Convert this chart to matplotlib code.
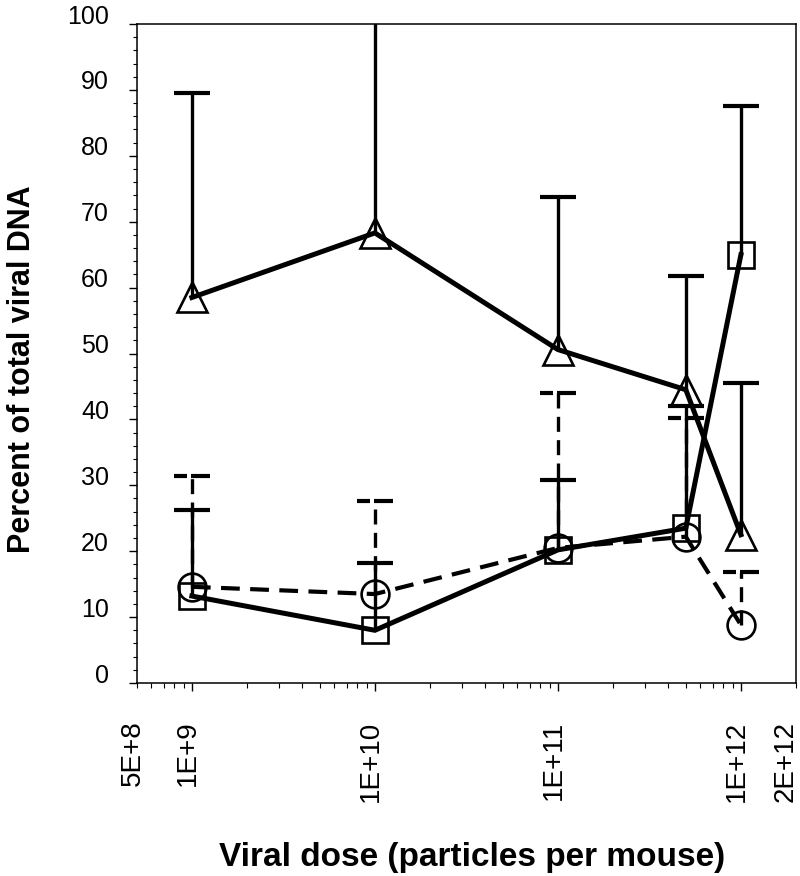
import matplotlib
matplotlib.use("Agg")
import matplotlib.pyplot as plt
import numpy as np
from matplotlib.path import Path
from matplotlib.ticker import FixedLocator, FuncFormatter, MultipleLocator, LogLocator
from matplotlib.transforms import ScaledTranslation

# ---------------- data ----------------
dose = [1e9, 1e10, 1e11, 5e11, 1e12]

tri_mean = [58.5, 68.3, 50.6, 44.5, 22.5]
tri_err = [31.1, 32.9, 23.2, 17.2, 23.1]

sq_mean = [13.2, 8.0, 20.2, 23.5, 65.0]
sq_err = [13.0, 10.2, 10.6, 18.6, 22.6]

circ_mean = [14.6, 13.5, 20.5, 22.2, 8.8]
circ_err = [16.8, 14.1, 23.5, 18.0, 8.0]

xtick_vals = [5e8, 1e9, 1e10, 1e11, 1e12, 2e12]
xtick_labels = ["5E+8", "1E+9", "1E+10", "1E+11", "1E+12", "2E+12"]
ytick_vals = [0, 10, 20, 30, 40, 50, 60, 70, 80, 90, 100]

xlabel = "Viral dose (particles per mouse)"
ylabel = "Percent of total viral DNA"

# ---------------- figure ----------------
plt.rcParams['font.family'] = ['Liberation Sans', 'DejaVu Sans']
fig = plt.figure(figsize=(8, 8.76), dpi=100)
ax = fig.add_axes([0.171, 0.2203, 0.824, 0.7523])
ax.set_xscale('log')
ax.set_xlim(xtick_vals[0], xtick_vals[-1])
ax.set_ylim(0, 100)

cap_solid = Path([(-1, 0), (1, 0)], [Path.MOVETO, Path.LINETO])
cap_dash = Path([(-1, 0), (-0.3, 0), (-0.05, 0), (1, 0)],
                [Path.MOVETO, Path.LINETO, Path.MOVETO, Path.LINETO])

def series(mean, err, marker, ls, ms, capm):
    zeros = np.zeros(len(mean))
    eb = ax.errorbar(dose, mean, yerr=[zeros, err], fmt='none', ecolor='black',
                     elinewidth=2.4, capsize=0, zorder=2)
    if ls != '-':
        for lc in eb[2]:
            lc.set_linestyle((0, (4.5, 2.5)))
    tops = np.array(mean) + np.array(err)
    ax.plot(dose, tops, linestyle='none', marker=capm, markersize=26,
            markeredgewidth=3.0, color='black', zorder=3)
    if ls == '-':
        ax.plot(dose, mean, color='black', linewidth=3.6, solid_joinstyle='miter', zorder=4)
    else:
        ax.plot(dose, mean, color='black', linewidth=3.0, dashes=(4.5, 2.5), zorder=4)
    ax.plot(dose, mean, linestyle='none', marker=marker, markersize=ms,
            markerfacecolor='none', markeredgecolor='black', markeredgewidth=1.9, zorder=5)

series(tri_mean, tri_err, '^', '-', 21, cap_solid)
series(sq_mean, sq_err, 's', '-', 19, cap_solid)
series(circ_mean, circ_err, 'o', '--', 20, cap_dash)

# ---------------- axes styling ----------------
for sp in ax.spines.values():
    sp.set_linewidth(1.1)
    sp.set_color('black')

ax.yaxis.set_major_locator(FixedLocator(ytick_vals))
ax.yaxis.set_minor_locator(MultipleLocator(2))
ax.tick_params(axis='y', which='major', direction='out', length=6, width=1.0,
               labelsize=18, pad=14)
ax.tick_params(axis='y', which='minor', direction='out', length=3, width=0.8)
for lab in ax.get_yticklabels():
    lab.set_transform(lab.get_transform() + ScaledTranslation(0, 10 / 100, fig.dpi_scale_trans))

label_map = dict(zip(xtick_vals, xtick_labels))
major_x = [v for v in xtick_vals if np.isclose(np.log10(v), round(np.log10(v)))]
ax.xaxis.set_major_locator(FixedLocator(major_x))
ax.xaxis.set_major_formatter(FuncFormatter(lambda v, p: label_map.get(v, "")))
ax.xaxis.set_minor_locator(LogLocator(base=10, subs=np.arange(2, 10), numticks=20))

def minor_fmt(v, p):
    for k, s in label_map.items():
        if np.isclose(v, k, rtol=1e-6):
            return s
    return ""

ax.xaxis.set_minor_formatter(FuncFormatter(minor_fmt))
ax.tick_params(axis='x', which='major', direction='out', length=6, width=1.0,
               labelsize=20, pad=21, labelrotation=90)
ax.tick_params(axis='x', which='minor', direction='out', length=3.5, width=0.8,
               labelsize=20, pad=23.5, labelrotation=90)
shift = ScaledTranslation(-4 / 100, 0, fig.dpi_scale_trans)
for lab in ax.get_xticklabels(which='both'):
    lab.set_transform(lab.get_transform() + shift)

fig.canvas.draw()
for lab in ax.get_xticklabels(which='minor'):
    if lab.get_text() == xtick_labels[-1]:
        lab.set_horizontalalignment('right')
        lab.set_transform(lab.get_transform() + ScaledTranslation(7 / 100, 0, fig.dpi_scale_trans))

fig.text(0.028, 0.578, ylabel, rotation=90, ha='center', va='center',
         fontsize=22, fontweight='bold')
fig.text(0.59, 0.0114, xlabel, ha='center', va='baseline',
         fontsize=24, fontweight='bold')

fig.savefig("out.png", dpi=100)
